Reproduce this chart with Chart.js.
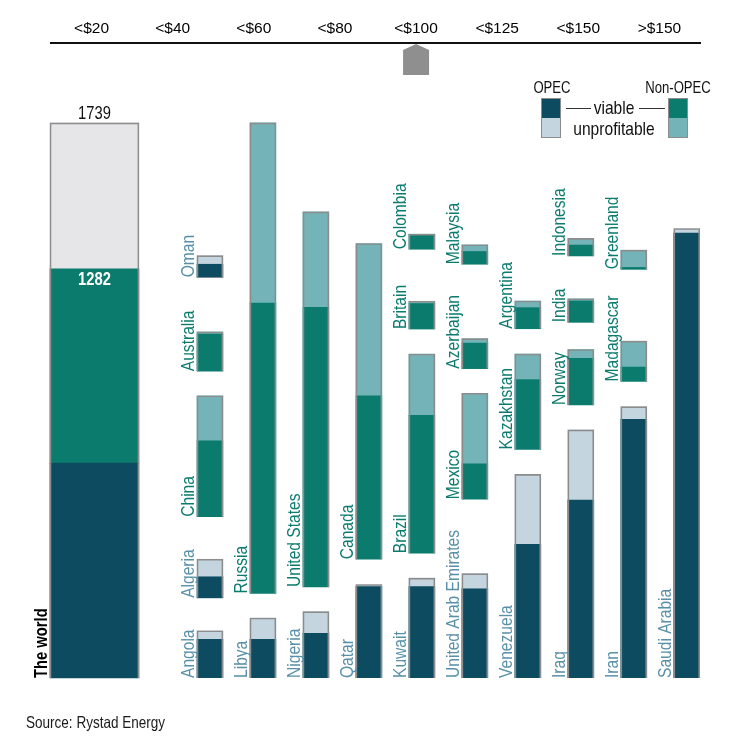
<!DOCTYPE html>
<html>
<head>
<meta charset="utf-8">
<script src="https://cdn.jsdelivr.net/npm/chart.js@4.4.1/dist/chart.umd.min.js"></script>
<style>
  html, body { margin: 0; padding: 0; background: #fff; }
  canvas { display: block; }
</style>
</head>
<body>
<canvas id="oilChart" width="750" height="746"></canvas>
<script>
// price bands shown on the top axis
const PRICE_LABELS = ['<$20', '<$40', '<$60', '<$80', '<$100', '<$125', '<$150', '>$150'];
const PRICE_MARKER = 4; // <$100

// the world
const WORLD_OPEC_VIABLE = 673;
const WORLD_VIABLE = 1282;
const WORLD_TOTAL = 1739;

// countries, column they sit in, bottom of their block, viable and unprofitable parts
const COUNTRIES = ['Angola', 'Algeria', 'China', 'Australia', 'Oman',
    'Libya', 'Russia',
    'Nigeria', 'United States',
    'Qatar', 'Canada',
    'Kuwait', 'Brazil', 'Britain', 'Colombia',
    'United Arab Emirates', 'Mexico', 'Azerbaijan', 'Malaysia',
    'Venezuela', 'Kazakhstan', 'Argentina',
    'Iraq', 'Norway', 'India', 'Indonesia',
    'Iran', 'Madagascar', 'Greenland',
    'Saudi Arabia'];
const IS_OPEC = [true, true, false, false, true,
    true, false,
    true, false,
    true, false,
    true, false, false, false,
    true, false, false, false,
    true, false, false,
    true, false, false, false,
    true, false, false,
    true];
const COLUMN = [1, 1, 1, 1, 1, 2, 2, 3, 3, 4, 4, 5, 5, 5, 5, 6, 6, 6, 6, 7, 7, 7, 8, 8, 8, 8, 9, 9, 9, 10];
const BASE = [0, 251, 505, 961, 1255,
    0, 265,
    0, 285,
    0, 372,
    0, 391, 1093, 1343,
    0, 560, 969, 1296,
    0, 716, 1094,
    0, 855, 1114, 1322,
    0, 929, 1280,
    0];
const VIABLE = [121, 66, 238, 116, 41,
    121, 909,
    140, 876,
    286, 512,
    286, 432, 80, 47,
    279, 111, 80, 40,
    419, 219, 66,
    557, 146, 67, 34,
    810, 45, 6,
    1394];
const UNPROFITABLE = [27, 55, 141, 7, 27,
    67, 565,
    68, 299,
    7, 477,
    27, 192, 7, 0,
    48, 221, 14, 21,
    219, 80, 21,
    220, 28, 7, 21,
    40, 81, 54,
    14];

// colours
const OPEC_DARK = '#0c4b60';
const OPEC_LIGHT = '#c4d5df';
const NON_DARK = '#0b7b6e';
const NON_LIGHT = '#74b4b8';
const WORLD_LIGHT = '#e6e6e8';
const EDGE = '#8c8c8c';
const OPEC_TEXT = '#5990a8';
const NON_TEXT = '#0b7b6e';

// layout
const WORLD_X = -1.18;
const BAR_W = 26;
const WORLD_W = 89;
const FONT = "'Liberation Sans', Arial, sans-serif";
const NARROW = 0.82; // squeeze text sideways, the original face is a narrow one

Chart.defaults.font.family = FONT;
Chart.defaults.color = '#1a1a1a';

function pick(opec, fn) {
    const out = [];
    COUNTRIES.forEach((c, i) => {
        if (IS_OPEC[i] === opec) out.push(fn(i));
    });
    return out;
}
const viableOf = i => ({x: COLUMN[i], y: [BASE[i], BASE[i] + VIABLE[i]]});
const unprofOf = i => ({x: COLUMN[i], y: [BASE[i] + VIABLE[i], BASE[i] + VIABLE[i] + UNPROFITABLE[i]]});
const outlineOf = i => ({x: COLUMN[i], y: [BASE[i], BASE[i] + VIABLE[i] + UNPROFITABLE[i]]});

const datasets = [
    { label: 'outline', data: COUNTRIES.map((c, i) => outlineOf(i)), backgroundColor: 'rgba(0,0,0,0)',
      borderColor: EDGE, borderWidth: 1, borderSkipped: 'bottom', barThickness: BAR_W, order: 0 },
    { label: 'world outline', data: [{x: WORLD_X, y: [0, WORLD_TOTAL]}], backgroundColor: 'rgba(0,0,0,0)',
      borderColor: EDGE, borderWidth: 1, borderSkipped: 'bottom', barThickness: WORLD_W, order: 0, clip: false },
    { label: 'OPEC viable', data: pick(true, viableOf), backgroundColor: OPEC_DARK, barThickness: BAR_W, order: 1 },
    { label: 'OPEC unprofitable', data: pick(true, unprofOf), backgroundColor: OPEC_LIGHT, barThickness: BAR_W, order: 1 },
    { label: 'Non-OPEC viable', data: pick(false, viableOf), backgroundColor: NON_DARK, barThickness: BAR_W, order: 1 },
    { label: 'Non-OPEC unprofitable', data: pick(false, unprofOf), backgroundColor: NON_LIGHT, barThickness: BAR_W, order: 1 },
    { label: 'world OPEC', data: [{x: WORLD_X, y: [0, WORLD_OPEC_VIABLE]}], backgroundColor: OPEC_DARK, barThickness: WORLD_W, order: 1, clip: false },
    { label: 'world non-OPEC', data: [{x: WORLD_X, y: [WORLD_OPEC_VIABLE, WORLD_VIABLE]}], backgroundColor: NON_DARK, barThickness: WORLD_W, order: 1, clip: false },
    { label: 'world unprofitable', data: [{x: WORLD_X, y: [WORLD_VIABLE, WORLD_TOTAL]}], backgroundColor: WORLD_LIGHT, barThickness: WORLD_W, order: 1, clip: false }
];

// narrow text: draw at (x, y), optionally turned to read upwards
function say(ctx, text, x, y, upright) {
    ctx.save();
    ctx.translate(x, y);
    if (upright) ctx.rotate(-Math.PI / 2);
    ctx.scale(NARROW, 1);
    ctx.fillText(text, 0, 0);
    ctx.restore();
}

// country names, world labels, price marker, legend and source
const extras = {
    id: 'extras',
    afterDatasetsDraw(chart) {
        const {ctx} = chart;
        const xs = chart.scales.x, ys = chart.scales.y, xp = chart.scales.x2;
        ctx.save();

        // country names, rotated, sitting left of each block
        ctx.font = '19px ' + FONT;
        ctx.textAlign = 'left';
        ctx.textBaseline = 'alphabetic';
        COUNTRIES.forEach((name, i) => {
            ctx.fillStyle = IS_OPEC[i] ? OPEC_TEXT : NON_TEXT;
            say(ctx, name, xs.getPixelForValue(COLUMN[i]) - BAR_W / 2 - 3, ys.getPixelForValue(BASE[i]), true);
        });

        // the world
        const wx = xs.getPixelForValue(WORLD_X);
        ctx.font = 'bold 18px ' + FONT;
        ctx.fillStyle = '#000';
        say(ctx, 'The world', wx - WORLD_W / 2 - 3, ys.getPixelForValue(0), true);

        ctx.textAlign = 'center';
        ctx.font = '18px ' + FONT;
        ctx.fillStyle = '#111';
        say(ctx, String(WORLD_TOTAL), wx, ys.getPixelForValue(WORLD_TOTAL) - 4);
        ctx.font = 'bold 18px ' + FONT;
        ctx.fillStyle = '#fff';
        say(ctx, String(WORLD_VIABLE), wx, ys.getPixelForValue(WORLD_VIABLE) + 16);

        // price marker under the top axis
        const mx = xp.getPixelForValue(PRICE_MARKER);
        const top = chart.chartArea.top;
        ctx.fillStyle = '#8f8f8f';
        ctx.beginPath();
        ctx.moveTo(mx, top + 1);
        ctx.lineTo(mx + 13, top + 7);
        ctx.lineTo(mx + 13, top + 32);
        ctx.lineTo(mx - 13, top + 32);
        ctx.lineTo(mx - 13, top + 7);
        ctx.closePath();
        ctx.fill();

        // legend
        const swatch = (x, dark, light) => {
            ctx.fillStyle = dark;
            ctx.fillRect(x, 98, 20, 20);
            ctx.fillStyle = light;
            ctx.fillRect(x, 118, 20, 20);
            ctx.strokeStyle = EDGE;
            ctx.lineWidth = 1;
            ctx.strokeRect(x + 0.5, 98.5, 19, 39);
        };
        swatch(541, OPEC_DARK, OPEC_LIGHT);
        swatch(668, NON_DARK, NON_LIGHT);
        ctx.fillStyle = '#111';
        ctx.font = '16px ' + FONT;
        say(ctx, 'OPEC', 552, 93);
        say(ctx, 'Non-OPEC', 678, 93);
        ctx.font = '19px ' + FONT;
        say(ctx, 'viable', 614, 114);
        say(ctx, 'unprofitable', 614, 135);
        ctx.strokeStyle = '#333';
        ctx.beginPath();
        ctx.moveTo(566, 108.5); ctx.lineTo(591, 108.5);
        ctx.moveTo(639, 108.5); ctx.lineTo(665, 108.5);
        ctx.stroke();

        // source
        ctx.textAlign = 'left';
        ctx.font = '16.5px ' + FONT;
        ctx.fillStyle = '#1a1a1a';
        say(ctx, 'Source: Rystad Energy', 26, 728);

        ctx.restore();
    }
};

new Chart(document.getElementById('oilChart'), {
    type: 'bar',
    data: { datasets: datasets },
    options: {
        responsive: false,
        animation: false,
        grouped: false,
        layout: { padding: { left: 51, right: 50, top: 0, bottom: 68 } },
        plugins: { legend: { display: false }, tooltip: { enabled: false } },
        scales: {
            x: { type: 'linear', display: false, min: -2, max: 10.25, offset: false },
            y: { display: false, min: 0, max: 1989 },
            x2: {
                type: 'category',
                position: 'top',
                labels: PRICE_LABELS,
                offset: true,
                grid: { display: false },
                border: { display: true, color: '#111', width: 2 },
                ticks: { font: { size: 15.5 }, color: '#000', padding: -3, maxRotation: 0 },
                afterFit: (scale) => { scale.height = 43; }
            }
        }
    },
    plugins: [extras]
});
</script>
</body>
</html>
